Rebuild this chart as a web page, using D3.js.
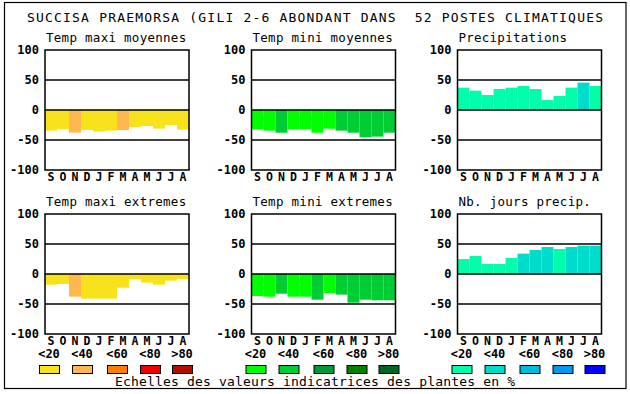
<!DOCTYPE html>
<html><head><meta charset="utf-8">
<script src="https://cdn.jsdelivr.net/npm/d3@7"></script>
<style>body{margin:0;background:#fff} svg{display:block} text{white-space:pre}</style>
</head><body><svg id="c" width="630" height="394"></svg>
<script>
const titleText = "SUCCISA PRAEMORSA (GILI 2-6 ABONDANT DANS  52 POSTES CLIMATIQUES";
const footText = "Echelles des valeurs indicatrices des plantes en %";
const months = ["S","O","N","D","J","F","M","A","M","J","J","A"];
const yTicks = [100, 50, 0, -50, -100];
const classLabels = ["<20", "<40", "<60", "<80", ">80"];
const tempColors = ["#f8e21c", "#ffb850", "#ff8000", "#ee0000", "#b01000"];
const greenColors = ["#00ff00", "#00cc33", "#009933", "#008000", "#006622"];
const blueColors = ["#00ffaa", "#00dccc", "#00bbdd", "#0099ee", "#0000ff"];

const panelTitles = ["Temp maxi moyennes", "Temp mini moyennes", "Precipitations",
                     "Temp maxi extremes", "Temp mini extremes", "Nb. jours precip."];
const tmaxMoyValues  = [-34.4, -32.2, -37.8, -33.3, -36.1, -34.4, -33.3, -28.3, -26.7, -31.1, -25.0, -32.8];
const tmaxMoyClasses = [0, 0, 1, 0, 0, 0, 1, 0, 0, 0, 0, 0];
const tminMoyValues  = [-32.2, -34.4, -37.8, -32.2, -32.2, -37.8, -31.1, -34.4, -37.8, -45.6, -44.4, -37.8];
const tminMoyClasses = [0, 0, 1, 0, 0, 0, 0, 1, 1, 1, 1, 1];
const precValues     = [37.2, 32.2, 25.0, 35.0, 37.2, 40.0, 35.0, 16.7, 23.3, 37.2, 45.6, 40.0];
const precClasses    = [0, 0, 0, 0, 0, 0, 0, 0, 0, 0, 1, 0];
const tmaxExtValues  = [-17.8, -16.7, -37.8, -41.1, -41.1, -41.1, -22.8, -8.9, -14.4, -17.8, -11.1, -8.3];
const tmaxExtClasses = [0, 0, 1, 0, 0, 0, 0, 0, 0, 0, 0, 0];
const tminExtValues  = [-36.7, -37.8, -32.8, -37.8, -37.8, -42.8, -31.7, -34.4, -47.8, -42.8, -43.9, -43.9];
const tminExtClasses = [0, 0, 1, 0, 0, 1, 0, 1, 1, 1, 1, 1];
const joursValues    = [25.0, 30.0, 16.7, 16.7, 26.7, 33.9, 40.0, 45.0, 41.7, 45.0, 47.2, 47.2];
const joursClasses   = [0, 0, 0, 0, 0, 1, 1, 1, 0, 1, 1, 1];

const panels = [
  {title: panelTitles[0], values: tmaxMoyValues, classes: tmaxMoyClasses, colors: tempColors, col: 0, row: 0},
  {title: panelTitles[1], values: tminMoyValues, classes: tminMoyClasses, colors: greenColors, col: 1, row: 0},
  {title: panelTitles[2], values: precValues, classes: precClasses, colors: blueColors, col: 2, row: 0},
  {title: panelTitles[3], values: tmaxExtValues, classes: tmaxExtClasses, colors: tempColors, col: 0, row: 1},
  {title: panelTitles[4], values: tminExtValues, classes: tminExtClasses, colors: greenColors, col: 1, row: 1},
  {title: panelTitles[5], values: joursValues, classes: joursClasses, colors: blueColors, col: 2, row: 1}
];

const svg = d3.select("#c");
const mono = "'DejaVu Sans Mono', 'Liberation Mono', monospace";
const colX = [45, 251.5, 457.5];
const rowY = [50, 214];
const PW = 144, PH = 120;

svg.append("rect").attr("x", 4.5).attr("y", 2.5).attr("width", 621.5).attr("height", 386)
  .attr("fill", "#fff").attr("stroke", "#000").attr("stroke-width", 1.2);

svg.append("text").attr("x", 27).attr("y", 22).attr("font-family", mono).attr("font-size", 13)
  .attr("xml:space", "preserve")
  .attr("textLength", 576).attr("lengthAdjust", "spacing").text(titleText);

panels.forEach(p => {
  const x0 = colX[p.col], y0 = rowY[p.row];
  const g = svg.append("g").attr("transform", `translate(${x0},${y0})`);
  const x = d3.scaleBand().domain(d3.range(months.length)).range([0, PW]).padding(0);
  const y = d3.scaleLinear().domain([-100, 100]).range([PH, 0]);

  svg.append("text").attr("x", x0 + 1).attr("y", y0 - 8.5).attr("font-family", mono).attr("font-size", 12.5)
    .attr("textLength", p.title.length * 7.9 - 2).attr("lengthAdjust", "spacing").text(p.title);

  g.selectAll("rect.bar").data(p.values).enter().append("rect").attr("class", "bar")
    .attr("x", (d, i) => x(i)).attr("width", x.bandwidth())
    .attr("y", d => y(Math.max(0, d))).attr("height", d => Math.abs(y(d) - y(0)))
    .attr("fill", (d, i) => p.colors[p.classes[i]]);

  g.selectAll("line.grid").data([50, 0, -50]).enter().append("line").attr("class", "grid")
    .attr("x1", 0).attr("x2", PW).attr("y1", d => y(d)).attr("y2", d => y(d))
    .attr("stroke", "#000").attr("stroke-width", 1.5);
  g.append("rect").attr("x", 0).attr("y", 0).attr("width", PW).attr("height", PH)
    .attr("fill", "none").attr("stroke", "#000").attr("stroke-width", 1.5);

  const ya = g.append("g").call(d3.axisLeft(y).tickValues(yTicks).tickSize(0).tickPadding(6).tickFormat(d => String(d)));
  ya.select(".domain").remove();
  ya.selectAll("text").attr("font-family", mono).attr("font-size", 12).attr("font-weight", "bold").attr("fill", "#000");

  const xa = g.append("g").attr("transform", `translate(0,${PH})`)
    .call(d3.axisBottom(x).tickSize(0).tickPadding(3).tickFormat(i => months[i]));
  xa.select(".domain").remove();
  xa.selectAll("text").attr("font-family", mono).attr("font-size", 11.5).attr("font-weight", "bold").attr("fill", "#000");

  if (p.row === 1) {
    const offs = [-6, 27, 62, 95, 127];
    const lg = svg.append("g").attr("transform", `translate(${x0},0)`);
    classLabels.forEach((lab, k) => {
      lg.append("text").attr("x", offs[k] + 10).attr("y", 358).attr("text-anchor", "middle")
        .attr("font-family", mono).attr("font-size", 12).attr("font-weight", "bold").text(lab);
      lg.append("rect").attr("x", offs[k] + 0.5).attr("y", 365.5).attr("width", 20).attr("height", 8)
        .attr("fill", p.colors[k]).attr("stroke", "#000").attr("stroke-width", 1);
    });
  }
});

svg.append("text").attr("x", 115).attr("y", 386).attr("font-family", mono).attr("font-size", 13)
  .attr("textLength", 400).attr("lengthAdjust", "spacing").text(footText);
</script></body></html>
